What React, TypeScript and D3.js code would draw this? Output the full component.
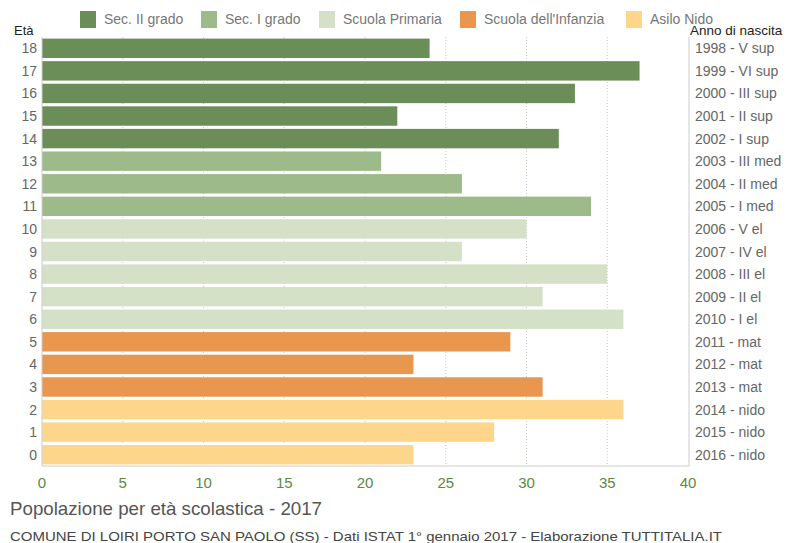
import React, { useRef, useEffect } from 'react';
import * as d3 from 'd3';

const ages = [18, 17, 16, 15, 14, 13, 12, 11, 10, 9, 8, 7, 6, 5, 4, 3, 2, 1, 0];
const values = [24, 37, 33, 22, 32, 21, 26, 34, 30, 26, 35, 31, 36, 29, 23, 31, 36, 28, 23];
const birthLabels = [
  '1998 - V sup', '1999 - VI sup', '2000 - III sup', '2001 - II sup', '2002 - I sup',
  '2003 - III med', '2004 - II med', '2005 - I med',
  '2006 - V el', '2007 - IV el', '2008 - III el', '2009 - II el', '2010 - I el',
  '2011 - mat', '2012 - mat', '2013 - mat',
  '2014 - nido', '2015 - nido', '2016 - nido',
];
const levels = ['Sec. II grado', 'Sec. I grado', 'Scuola Primaria', "Scuola dell'Infanzia", 'Asilo Nido'];
const levelColors = ['#6b8e59', '#9dbb8a', '#d4e1c6', '#e9964e', '#fdd68b'];
const xTicks = [0, 5, 10, 15, 20, 25, 30, 35, 40];

const levelOf = (age: number) =>
  age >= 14 ? 0 : age >= 11 ? 1 : age >= 6 ? 2 : age >= 3 ? 3 : 4;

const W = 789;
const H = 543;

const App: React.FC = () => {
  const svgRef = useRef<SVGSVGElement>(null);

  useEffect(() => {
    if (!svgRef.current) return;
    const svg = d3.select(svgRef.current);
    svg.selectAll('*').remove();

    const left = 42, right = 688, top = 37, bottom = 466;
    const font = 'Liberation Sans, Arial, sans-serif';

    const x = d3.scaleLinear().domain([0, 40]).range([left, right]);
    const y = d3.scaleBand<number>().domain(ages).range([top, bottom]).paddingInner(0.14).paddingOuter(0.07);

    // grid lines
    svg.append('g')
      .selectAll('line')
      .data(xTicks.slice(1, -1))
      .enter()
      .append('line')
      .attr('x1', d => x(d)).attr('x2', d => x(d))
      .attr('y1', top).attr('y2', bottom)
      .attr('stroke', '#c9c6d6')
      .attr('stroke-width', 1)
      .attr('stroke-dasharray', '1,2');

    // bars
    svg.append('g')
      .selectAll('rect')
      .data(ages)
      .enter()
      .append('rect')
      .attr('x', x(0))
      .attr('y', d => y(d)!)
      .attr('width', (d, i) => x(values[i]) - x(0))
      .attr('height', y.bandwidth())
      .attr('fill', d => levelColors[levelOf(d)]);

    // axis frame
    svg.append('line')
      .attr('x1', left).attr('x2', left).attr('y1', top).attr('y2', bottom)
      .attr('stroke', '#cccccc');
    svg.append('line')
      .attr('x1', right + 1).attr('x2', right + 1).attr('y1', top).attr('y2', bottom)
      .attr('stroke', '#cccccc');
    svg.append('line')
      .attr('x1', left).attr('x2', right + 1).attr('y1', bottom).attr('y2', bottom)
      .attr('stroke', '#cccccc');

    // x tick labels
    svg.append('g')
      .selectAll('text')
      .data(xTicks)
      .enter()
      .append('text')
      .attr('x', d => x(d))
      .attr('y', 488)
      .attr('text-anchor', 'middle')
      .attr('font-family', font)
      .attr('font-size', 15)
      .attr('fill', '#5d8a40')
      .text(d => d);

    // left age labels
    svg.append('g')
      .selectAll('text')
      .data(ages)
      .enter()
      .append('text')
      .attr('x', 37)
      .attr('y', d => y(d)! + y.bandwidth() / 2 + 5)
      .attr('text-anchor', 'end')
      .attr('font-family', font)
      .attr('font-size', 14)
      .attr('fill', '#666')
      .text(d => d);

    // right birth labels
    svg.append('g')
      .selectAll('text')
      .data(ages)
      .enter()
      .append('text')
      .attr('x', 695)
      .attr('y', d => y(d)! + y.bandwidth() / 2 + 5)
      .attr('font-family', font)
      .attr('font-size', 14)
      .attr('fill', '#666')
      .text((d, i) => birthLabels[i]);

    svg.append('text')
      .attr('x', 14).attr('y', 35)
      .attr('font-family', font).attr('font-size', 13).attr('fill', '#222')
      .text('Età');
    svg.append('text')
      .attr('x', 690).attr('y', 35)
      .attr('font-family', font).attr('font-size', 13.5).attr('fill', '#222')
      .text('Anno di nascita');

    // legend
    const legendX = [80, 201, 319, 460, 626];
    const lg = svg.append('g')
      .selectAll('g')
      .data(levels)
      .enter()
      .append('g')
      .attr('transform', (d, i) => `translate(${legendX[i]},11)`);
    lg.append('rect')
      .attr('width', 16).attr('height', 17)
      .attr('fill', (d, i) => levelColors[i]);
    lg.append('text')
      .attr('x', 24).attr('y', 13)
      .attr('font-family', font).attr('font-size', 14).attr('fill', '#777')
      .text(d => d);

    // titles
    svg.append('text')
      .attr('x', 10).attr('y', 515)
      .attr('font-family', font).attr('font-size', 18.5).attr('fill', '#555')
      .attr('textLength', 312).attr('lengthAdjust', 'spacingAndGlyphs')
      .text('Popolazione per età scolastica - 2017');
    svg.append('text')
      .attr('x', 10).attr('y', 541)
      .attr('font-family', font).attr('font-size', 13).attr('fill', '#444')
      .attr('textLength', 712).attr('lengthAdjust', 'spacingAndGlyphs')
      .text('COMUNE DI LOIRI PORTO SAN PAOLO (SS) - Dati ISTAT 1° gennaio 2017 - Elaborazione TUTTITALIA.IT');
  }, []);

  return (
    <svg
      ref={svgRef}
      width={W}
      height={H}
      style={{ position: 'absolute', left: 0, top: 0, background: '#fff' }}
    />
  );
};

export default App;
